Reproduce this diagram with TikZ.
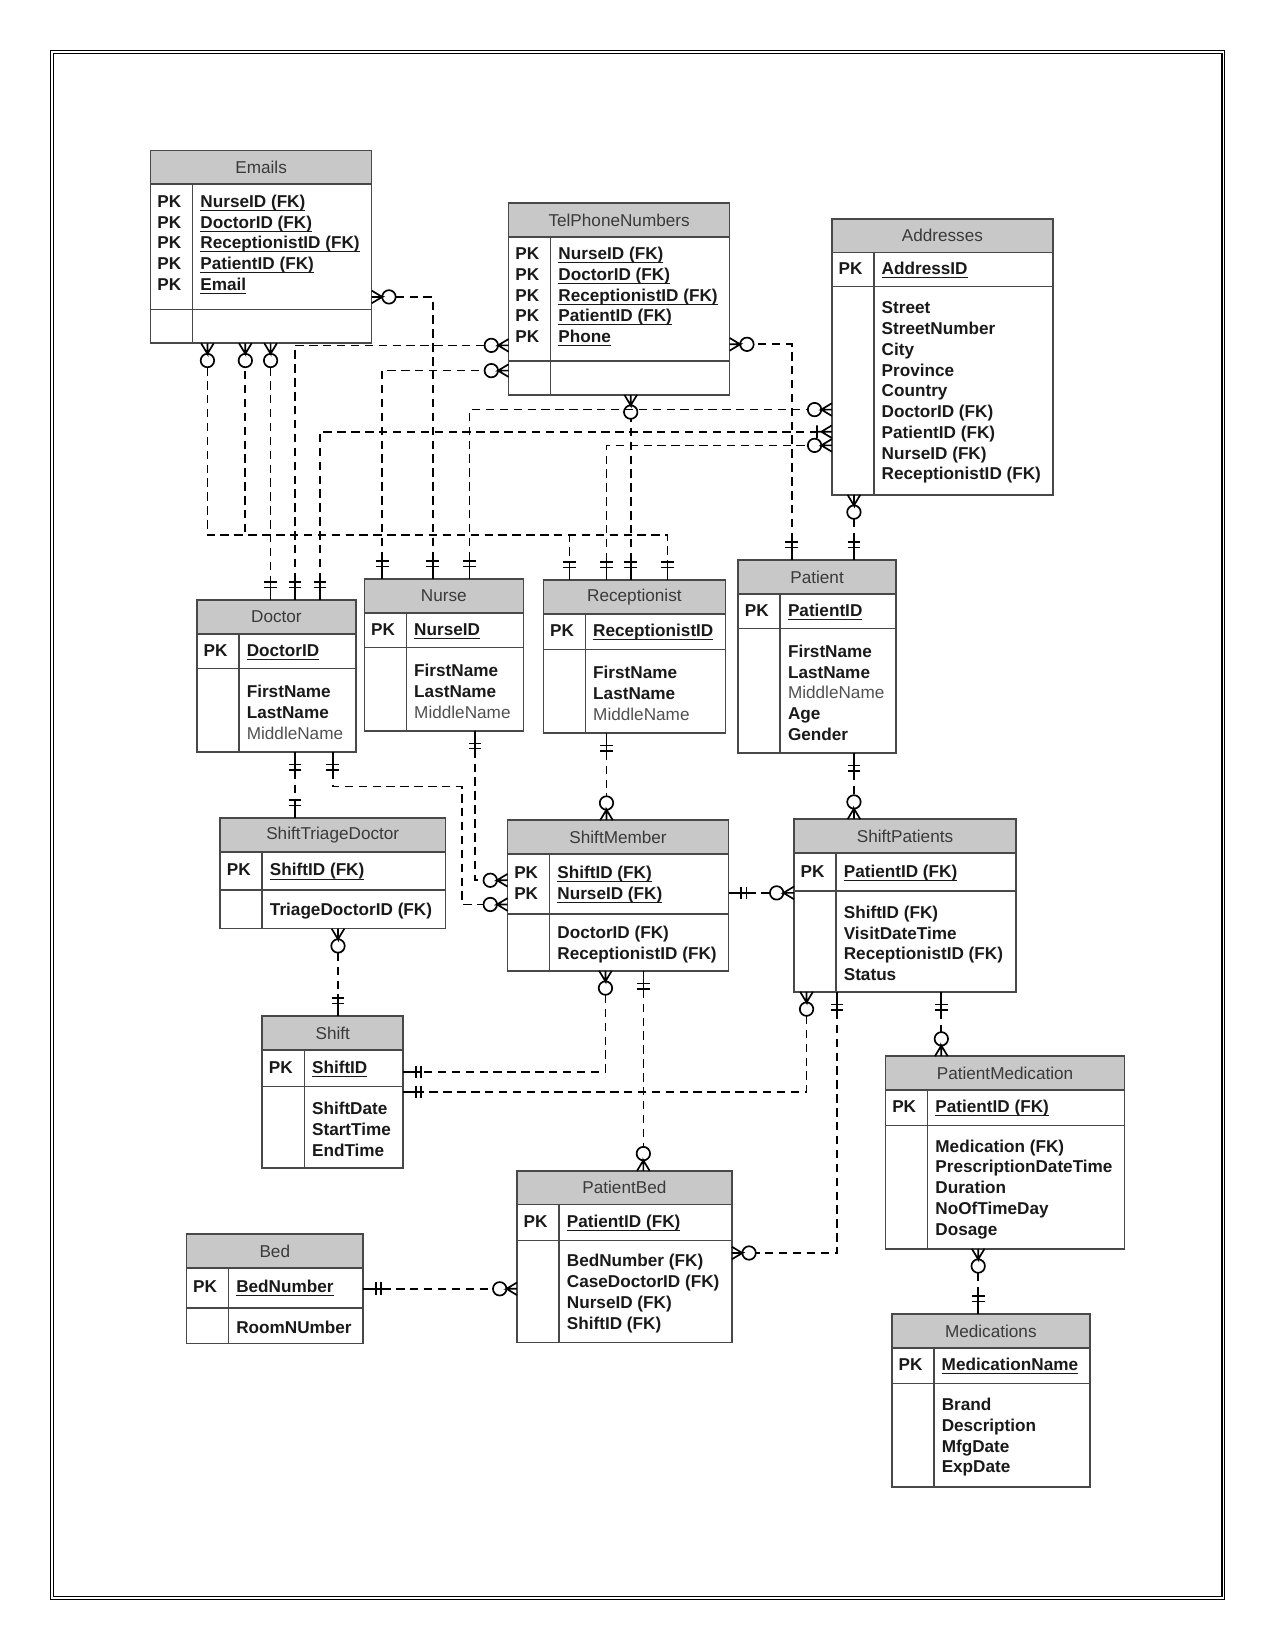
\documentclass[tikz,border=0pt]{standalone}
\usepackage{fontspec}
\setmainfont{Liberation Sans}
\usepackage{tikz}
\usetikzlibrary{arrows.meta, calc}
\usepackage{xcolor}
\definecolor{headgray}{RGB}{200,200,200}
\definecolor{bordergray}{RGB}{72,72,72}
\definecolor{titlegray}{RGB}{58,58,58}
\definecolor{inkblack}{RGB}{25,25,25}
\definecolor{optgray}{RGB}{80,80,80}

\newcommand{\erunit}{0.5pt}
\newcommand{\erfont}{\fontsize{8.15}{9.85}\selectfont}
\newcommand{\keyname}[1]{\underline{\smash{#1}}}
\newcommand{\optattr}[1]{{\mdseries\color{optgray}#1}}

% crow's foot ends
\pgfdeclarearrow{
  name = erone,
  parameters = {\the\pgflinewidth},
  setup code = {
    \pgfarrowssettipend{0pt}
    \pgfarrowssetlineend{-9pt}
    \pgfarrowssetbackend{-9pt}
  },
  drawing code = {
    \pgfsetdash{}{0pt}
    \pgfpathmoveto{\pgfpointorigin}
    \pgfpathlineto{\pgfpoint{-9pt}{0pt}}
    \pgfpathmoveto{\pgfpoint{-6pt}{-3pt}}
    \pgfpathlineto{\pgfpoint{-6pt}{3pt}}
    \pgfpathmoveto{\pgfpoint{-8.5pt}{-3pt}}
    \pgfpathlineto{\pgfpoint{-8.5pt}{3pt}}
    \pgfusepathqstroke
  }
}
\pgfdeclarearrow{
  name = ermany,
  parameters = {\the\pgflinewidth},
  setup code = {
    \pgfarrowssettipend{0pt}
    \pgfarrowssetlineend{-11.4pt}
    \pgfarrowssetbackend{-11.4pt}
  },
  drawing code = {
    \pgfsetdash{}{0pt}
    \pgfpathmoveto{\pgfpointorigin}
    \pgfpathlineto{\pgfpoint{-5pt}{0pt}}
    \pgfpathlineto{\pgfpoint{0pt}{3pt}}
    \pgfpathmoveto{\pgfpoint{-5pt}{0pt}}
    \pgfpathlineto{\pgfpoint{0pt}{-3pt}}
    \pgfpathcircle{\pgfpoint{-8.2pt}{0pt}}{3.2pt}
    \pgfusepathqstroke
  }
}
\pgfdeclarearrow{
  name = eronemany,
  parameters = {\the\pgflinewidth},
  setup code = {
    \pgfarrowssettipend{0pt}
    \pgfarrowssetlineend{-7.5pt}
    \pgfarrowssetbackend{-7.5pt}
  },
  drawing code = {
    \pgfsetdash{}{0pt}
    \pgfpathmoveto{\pgfpointorigin}
    \pgfpathlineto{\pgfpoint{-5pt}{0pt}}
    \pgfpathlineto{\pgfpoint{0pt}{3pt}}
    \pgfpathmoveto{\pgfpoint{-5pt}{0pt}}
    \pgfpathlineto{\pgfpoint{0pt}{-3pt}}
    \pgfpathmoveto{\pgfpoint{-5pt}{0pt}}
    \pgfpathlineto{\pgfpoint{-7.5pt}{0pt}}
    \pgfpathmoveto{\pgfpoint{-7pt}{-3pt}}
    \pgfpathlineto{\pgfpoint{-7pt}{3pt}}
    \pgfusepathqstroke
  }
}

\tikzset{
  erframe/.style={rectangle, inner sep=0pt, outer sep=0pt, anchor=north west},
  erline/.style={draw=bordergray, line width=0.75pt},
  erhead/.style={fill=headgray},
  ertitle/.style={inner sep=0pt, font=\erfont, text=titlegray},
  erkeys/.style={anchor=west, inner sep=0pt, font=\erfont\bfseries, text=inkblack},
  erattrs/.style={anchor=west, inner sep=0pt, align=left, font=\erfont\bfseries, text=inkblack},
  rel/.style={draw=black, line width=0.8pt, dash pattern=on 4pt off 2.6pt},
}

% #1 name, #2 x, #3 y, #4 width, #5 key part, #6 attribute part, #7 title, #8 keys, #9 attributes
\newcommand{\ertable}[9]{%
  \node[erframe, minimum width=#4*\erunit, minimum height=(32+#5+#6)*\erunit] (#1) at (#2,#3) {};
  \fill[erhead] (#2,#3) rectangle ++(#4,32);
  \node[ertitle] (#1-title) at (#2+#4/2,#3+16) {#7};
  \draw[erline] (#2,#3+32) -- ++(#4,0) (#2,#3+32+#5) -- ++(#4,0) (#2+40,#3+32) -- ++(0,#5+#6);
  \draw[erline] (#2,#3) rectangle ++(#4,32+#5+#6);
  \node[erkeys] (#1-keys) at (#2+6,#3+33+#5/2) {\begin{tabular}{@{}p{20.5pt}@{}l@{}}#8\end{tabular}};
  \node[erattrs] (#1-attrs) at (#2+47,#3+34+#5+#6/2) {#9};
}

\begin{document}
\begin{tikzpicture}[x=0.5pt, y=-0.5pt]
  \useasboundingbox (0,0) rectangle (1211,1568);
  % page frame
  \draw[line width=0.6pt] (48,48) rectangle (1163,1519);
  \draw[line width=0.6pt] (50.5,50.5) rectangle (1160.5,1516.5);

  % tables
  \ertable{emails}{143}{143}{210}{119}{32}{Emails}
    {PK & \keyname{NurseID (FK)}\\ PK & \keyname{DoctorID (FK)}\\ PK & \keyname{ReceptionistID (FK)}\\ PK & \keyname{PatientID (FK)}\\ PK & \keyname{Email}\\[3pt]}{}
  \ertable{telnums}{483}{193}{210}{118}{32}{TelPhoneNumbers}
    {PK & \keyname{NurseID (FK)}\\ PK & \keyname{DoctorID (FK)}\\ PK & \keyname{ReceptionistID (FK)}\\ PK & \keyname{PatientID (FK)}\\ PK & \keyname{Phone}\\[3pt]}{}
  \ertable{addresses}{790}{208}{210}{32}{198}{Addresses}
    {PK & \keyname{AddressID}}
    {Street\\ StreetNumber\\ City\\ Province\\ Country\\ DoctorID (FK)\\ PatientID (FK)\\ NurseID (FK)\\ ReceptionistID (FK)}
  \ertable{doctor}{187}{570}{151}{33}{79}{Doctor}
    {PK & \keyname{DoctorID}}{FirstName\\ LastName\\ \optattr{MiddleName}}
  \ertable{nurse}{346}{550}{151}{33}{79}{Nurse}
    {PK & \keyname{NurseID}}{FirstName\\ LastName\\ \optattr{MiddleName}}
  \ertable{recep}{516}{551}{173}{34}{79}{Receptionist}
    {PK & \keyname{ReceptionistID}}{FirstName\\ LastName\\ \optattr{MiddleName}}
  \ertable{patient}{701}{532}{150}{33}{118}{Patient}
    {PK & \keyname{PatientID}}{FirstName\\ LastName\\ \optattr{MiddleName}\\ Age\\ Gender}
  \ertable{triage}{209}{777}{214}{36}{37}{ShiftTriageDoctor}
    {PK & \keyname{ShiftID (FK)}}{TriageDoctorID (FK)}
  \ertable{shmember}{482}{779}{210}{57}{54}{ShiftMember}
    {PK & \keyname{ShiftID (FK)}\\ PK & \keyname{NurseID (FK)}}{DoctorID (FK)\\ ReceptionistID (FK)}
  \ertable{shpatients}{754}{778}{211}{36}{96}{ShiftPatients}
    {PK & \keyname{PatientID (FK)}}{ShiftID (FK)\\ VisitDateTime\\ ReceptionistID (FK)\\ Status}
  \ertable{shift}{249}{965}{134}{35}{77}{Shift}
    {PK & \keyname{ShiftID}}{ShiftDate\\ StartTime\\ EndTime}
  \ertable{patmed}{841}{1003}{227}{34}{117}{PatientMedication}
    {PK & \keyname{PatientID (FK)}}{Medication (FK)\\ PrescriptionDateTime\\ Duration\\ NoOfTimeDay\\ Dosage}
  \ertable{patbed}{491}{1112}{204}{34}{97}{PatientBed}
    {PK & \keyname{PatientID (FK)}}{BedNumber (FK)\\ CaseDoctorID (FK)\\ NurseID (FK)\\ ShiftID (FK)}
  \ertable{bed}{177}{1172}{168}{38}{34}{Bed}
    {PK & \keyname{BedNumber}}{RoomNUmber}
  \ertable{meds}{847}{1248}{188}{34}{98}{Medications}
    {PK & \keyname{MedicationName}}{Brand\\ Description\\ MfgDate\\ ExpDate}

  % relationships
  \draw[rel, ermany-erone] (emails.east |- 0,282) -| (nurse.north -| 411,0);
  \draw[rel, ermany-erone] (emails.south -| 197,0) -- ++(0,182) -| (recep.north -| 634,0);
  \draw[rel, ermany-erone, dash phase=4.8pt] (emails.south -| 233,0) -- ++(0,182) -| (recep.north -| 541,0);
  \draw[rel, ermany-erone] (emails.south -| 257,0) -- (doctor.north -| 257,0);
  \draw[rel, erone-ermany] (doctor.north -| 280,0) |- (telnums.west |- 0,328);
  \draw[rel, erone-eronemany] (doctor.north -| 304,0) |- (addresses.west |- 0,410);
  \draw[rel, erone-ermany] (nurse.north -| 363,0) |- (telnums.west |- 0,352);
  \draw[rel, erone-ermany] (nurse.north -| 446,0) |- (addresses.west |- 0,389);
  \draw[rel, erone-ermany] (recep.north -| 576,0) |- (addresses.west |- 0,423);
  \draw[rel, erone-ermany] (recep.north -| 599,0) -- (telnums.south -| 599,0);
  \draw[rel, erone-ermany] (patient.north -| 752,0) |- (telnums.east |- 0,327);
  \draw[rel, erone-ermany] (patient.north -| 811,0) -- (addresses.south -| 811,0);
  \draw[rel, erone-erone] (doctor.south -| 280,0) -- (triage.north -| 280,0);
  \draw[rel, erone-ermany] (doctor.south -| 316,0) |- ++(123,33) |- (shmember.west |- 0,859);
  \draw[rel, erone-ermany] (nurse.south -| 451,0) |- (shmember.west |- 0,836);
  \draw[rel, erone-ermany] (recep.south -| 576,0) -- (shmember.north -| 576,0);
  \draw[rel, erone-ermany] (patient.south -| 811,0) -- (shpatients.north -| 811,0);
  \draw[rel, erone-ermany] (shmember.east |- 0,848) -- (shpatients.west |- 0,848);
  \draw[rel, ermany-erone] (triage.south -| 321,0) -- (shift.north -| 321,0);
  \draw[rel, ermany-erone] (shmember.south -| 575,0) |- (shift.east |- 0,1018);
  \draw[rel, erone-ermany] (shmember.south -| 611,0) -- (patbed.north -| 611,0);
  \draw[rel, ermany-erone] (shpatients.south -| 766,0) |- (shift.east |- 0,1037);
  \draw[rel, erone-ermany] (shpatients.south -| 795,0) |- (patbed.east |- 0,1190);
  \draw[rel, erone-ermany] (shpatients.south -| 894,0) -- (patmed.north -| 894,0);
  \draw[rel, ermany-erone] (patmed.south -| 929,0) -- (meds.north -| 929,0);
  \draw[rel, erone-ermany] (bed.east |- 0,1224) -- (patbed.west |- 0,1224);
\end{tikzpicture}
\end{document}
